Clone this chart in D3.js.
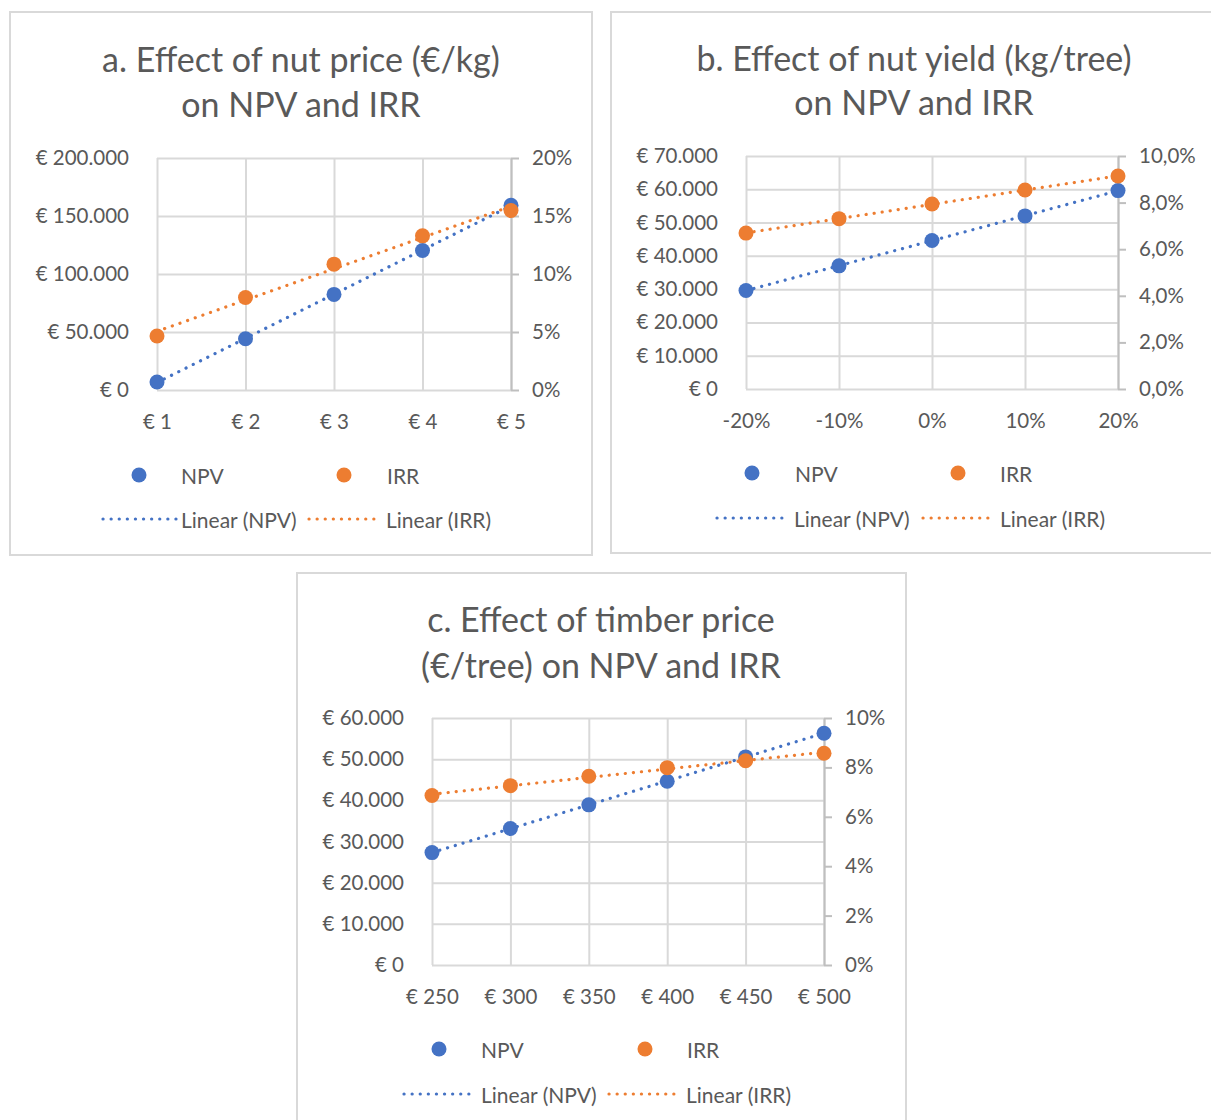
<!DOCTYPE html>
<html>
<head>
<meta charset="utf-8">
<script src="https://cdn.jsdelivr.net/npm/d3@7"></script>
<style>
  body { margin: 0; background: #fff; }
  svg text { font-family: Lato, "Open Sans", sans-serif; fill: #595959; }
</style>
</head>
<body>
<svg id="chart" width="1211" height="1120"></svg>
<script>
// a. nut price (€/kg)
let nutPrice = [1, 2, 3, 4, 5]
let nutPriceNPV = [6900, 44200, 82400, 120200, 159300]
let nutPriceIRR = [0.0465, 0.0798, 0.1085, 0.1329, 0.1547]

// b. nut yield change
let nutYield = [-0.2, -0.1, 0, 0.1, 0.2]
let nutYieldNPV = [29600, 37000, 44600, 52000, 59600]
let nutYieldIRR = [0.0669, 0.0731, 0.0794, 0.0854, 0.0914]

// c. timber price (€/tree)
let timberPrice = [250, 300, 350, 400, 450, 500]
let timberPriceNPV = [27300, 33150, 38900, 44650, 50550, 56300]
let timberPriceIRR = [0.0686, 0.0726, 0.0764, 0.0799, 0.0827, 0.0857]

// ticks
let aLeftTicks = [0, 50000, 100000, 150000, 200000]
let aRightTicks = [0, 0.05, 0.10, 0.15, 0.20]
let bLeftTicks = [0, 10000, 20000, 30000, 40000, 50000, 60000, 70000]
let bRightTicks = [0, 0.02, 0.04, 0.06, 0.08, 0.10]
let cLeftTicks = [0, 10000, 20000, 30000, 40000, 50000, 60000]
let cRightTicks = [0, 0.02, 0.04, 0.06, 0.08, 0.10]

let blue = '#4472C4'
let orange = '#ED7D31'
let grid = '#d9d9d9'
let tickFont = '20.5px'
let legendFont = '21px'

let locale = d3.formatLocale({decimal: ',', thousands: '.', grouping: [3], currency: ['€ ', '']})
let euro = (v) => '€ ' + locale.format(',')(v)
let pct0 = (v) => Math.round(v * 100) + '%'
let pct1 = (v) => locale.format('.1f')(v * 100) + '%'

let svg = d3.select('#chart')

let panels = [
  {
    box: [10, 12, 582, 543],
    title: ['a. Effect of nut price (€/kg)', 'on NPV and IRR'],
    titleX: 301, titleY: [58, 103],
    plot: {l: 157, r: 511, t: 158, b: 390},
    xs: nutPrice, npv: nutPriceNPV, irr: nutPriceIRR,
    leftTicks: aLeftTicks, rightTicks: aRightTicks,
    xFmt: (v) => '€ ' + v, rFmt: pct0,
    leg: {y1: 475, y2: 519, dots: [139, 344], t1: [181, 387], lines: [[103, 176], [309, 380]], t2: [181, 386]}
  },
  {
    box: [611, 12, 640, 541],
    title: ['b. Effect of nut yield (kg/tree)', 'on NPV and IRR'],
    titleX: 914, titleY: [57, 101],
    plot: {l: 746, r: 1118, t: 156, b: 389},
    xs: nutYield, npv: nutYieldNPV, irr: nutYieldIRR,
    leftTicks: bLeftTicks, rightTicks: bRightTicks,
    xFmt: pct0, rFmt: pct1,
    leg: {y1: 473, y2: 518, dots: [752, 958], t1: [795, 1000], lines: [[717, 788], [923, 994]], t2: [794, 1000]}
  },
  {
    box: [297, 573, 609, 580],
    title: ['c. Effect of timber price', '(€/tree) on NPV and IRR'],
    titleX: 601, titleY: [618, 664],
    plot: {l: 432, r: 824, t: 718, b: 965},
    xs: timberPrice, npv: timberPriceNPV, irr: timberPriceIRR,
    leftTicks: cLeftTicks, rightTicks: cRightTicks,
    xFmt: (v) => '€ ' + v, rFmt: pct0,
    leg: {y1: 1049, y2: 1094, dots: [439, 645], t1: [481, 687], lines: [[404, 476], [609, 680]], t2: [481, 686]}
  }
]

let fit = (xs, ys) => {
  let mx = d3.mean(xs), my = d3.mean(ys)
  let num = d3.sum(xs, (x, i) => (x - mx) * (ys[i] - my))
  let den = d3.sum(xs, (x) => (x - mx) * (x - mx))
  let slope = num / den
  return (x) => my + slope * (x - mx)
}

let dotted = (sel, color) => sel
  .attr('stroke', color)
  .attr('stroke-width', 3.2)
  .attr('stroke-linecap', 'round')
  .attr('stroke-dasharray', '0.1 8')
  .attr('fill', 'none')

let drawPanel = (p) => {
  let g = svg.append('g')
  g.append('rect')
    .attr('x', p.box[0]).attr('y', p.box[1])
    .attr('width', p.box[2]).attr('height', p.box[3])
    .attr('fill', '#fff').attr('stroke', grid).attr('stroke-width', 2)

  p.title.forEach((t, i) => {
    g.append('text')
      .attr('x', p.titleX).attr('y', p.titleY[i])
      .attr('text-anchor', 'middle').attr('dominant-baseline', 'central')
      .style('font-size', '34px')
      .text(t)
  })

  let xScale = d3.scaleLinear()
    .domain(d3.extent(p.xs))
    .range([p.plot.l, p.plot.r])
  let yLeft = d3.scaleLinear()
    .domain([0, d3.max(p.leftTicks)])
    .range([p.plot.b, p.plot.t])
  let yRight = d3.scaleLinear()
    .domain([0, d3.max(p.rightTicks)])
    .range([p.plot.b, p.plot.t])

  // horizontal gridlines + left labels
  let yAxis = d3.axisLeft(yLeft)
    .tickValues(p.leftTicks)
    .tickSize(-(p.plot.r - p.plot.l))
    .tickPadding(28)
    .tickFormat(euro)
  let ya = g.append('g')
    .attr('transform', 'translate(' + p.plot.l + ',0)')
    .call(yAxis)
  ya.select('.domain').remove()
  ya.selectAll('line').attr('stroke', grid).attr('stroke-width', 2)
  ya.selectAll('text').style('font-size', tickFont).attr('fill', '#595959')

  // vertical gridlines + bottom labels
  let xAxis = d3.axisBottom(xScale)
    .tickValues(p.xs)
    .tickSize(-(p.plot.b - p.plot.t))
    .tickPadding(24)
    .tickFormat(p.xFmt)
  let xa = g.append('g')
    .attr('transform', 'translate(0,' + p.plot.b + ')')
    .call(xAxis)
  xa.select('.domain').remove()
  xa.selectAll('line').attr('stroke', grid).attr('stroke-width', 2)
  xa.selectAll('text').style('font-size', tickFont).attr('fill', '#595959')

  // right axis
  let rAxis = d3.axisRight(yRight)
    .tickValues(p.rightTicks)
    .tickSize(8)
    .tickSizeOuter(0)
    .tickPadding(13)
    .tickFormat(p.rFmt)
  let ra = g.append('g')
    .attr('transform', 'translate(' + p.plot.r + ',0)')
    .call(rAxis)
  ra.select('.domain').attr('stroke', '#bfbfbf').attr('stroke-width', 2)
  ra.selectAll('line').attr('stroke', '#bfbfbf').attr('stroke-width', 2)
  ra.selectAll('text').style('font-size', tickFont).attr('fill', '#595959')

  // trendlines
  let x0 = d3.min(p.xs), x1 = d3.max(p.xs)
  let fN = fit(p.xs, p.npv)
  let fI = fit(p.xs, p.irr)
  g.append('line')
    .attr('x1', xScale(x0)).attr('y1', yLeft(fN(x0)))
    .attr('x2', xScale(x1)).attr('y2', yLeft(fN(x1)))
    .call(dotted, blue)
  g.append('line')
    .attr('x1', xScale(x0)).attr('y1', yRight(fI(x0)))
    .attr('x2', xScale(x1)).attr('y2', yRight(fI(x1)))
    .call(dotted, orange)

  // markers
  g.append('g').selectAll('circle')
    .data(p.xs)
    .enter()
    .append('circle')
    .attr('cx', (d) => xScale(d))
    .attr('cy', (d, i) => yLeft(p.npv[i]))
    .attr('r', 7.5)
    .attr('fill', blue)
  g.append('g').selectAll('circle')
    .data(p.xs)
    .enter()
    .append('circle')
    .attr('cx', (d) => xScale(d))
    .attr('cy', (d, i) => yRight(p.irr[i]))
    .attr('r', 7.5)
    .attr('fill', orange)

  // legend
  let L = p.leg
  let names = ['NPV', 'IRR']
  let colors = [blue, orange]
  names.forEach((n, i) => {
    g.append('circle')
      .attr('cx', L.dots[i]).attr('cy', L.y1).attr('r', 7.5).attr('fill', colors[i])
    g.append('text')
      .attr('x', L.t1[i]).attr('y', L.y1)
      .attr('dominant-baseline', 'central')
      .style('font-size', legendFont)
      .text(n)
    g.append('line')
      .attr('x1', L.lines[i][0]).attr('x2', L.lines[i][1])
      .attr('y1', L.y2).attr('y2', L.y2)
      .call(dotted, colors[i])
    g.append('text')
      .attr('x', L.t2[i]).attr('y', L.y2)
      .attr('dominant-baseline', 'central')
      .style('font-size', legendFont)
      .text('Linear (' + n + ')')
  })
}

panels.forEach(drawPanel)
</script>
</body>
</html>
